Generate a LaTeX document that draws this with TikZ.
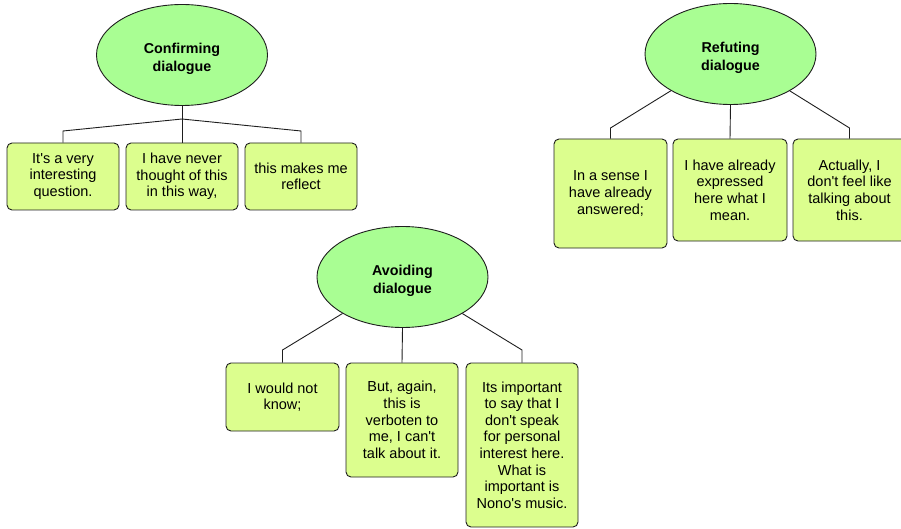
\documentclass[tikz,border=0pt]{standalone}
\usepackage{fontspec}
\setmainfont{Liberation Sans}[Ligatures=TeXOff]
\usetikzlibrary{shapes.geometric}
\definecolor{topicgreen}{HTML}{A9FE93}
\definecolor{notegreen}{HTML}{DCFE8E}
\definecolor{inkgray}{HTML}{1E1E1E}
% two-line bold caption, drawn a little below the ellipse centre
\newcommand\topictext[1]{\raisebox{-3.5pt}[\height][\depth]{\begin{tabular}{@{}c@{}}#1\end{tabular}}}
\tikzset{
  topic/.style={ellipse, draw=inkgray, line width=0.9pt, fill=topicgreen,
    minimum width=171pt, minimum height=101pt, inner sep=0pt,
    font=\fontsize{14.3}{18}\selectfont\bfseries},
  note/.style={rectangle, rounded corners=5pt, draw=inkgray, line width=0.9pt,
    fill=notegreen, minimum width=112pt, inner sep=0pt,
    font=\fontsize{14.5}{16.6}\selectfont, align=center},
  link/.style={draw=inkgray, line width=0.9pt}
}
\begin{document}
\begin{tikzpicture}[x=1pt, y=-1pt]
\useasboundingbox (0,0) rectangle (901,529);
\clip (0,0) rectangle (901,529);

% Confirming dialogue
\node[topic] (C) at (182,55) {\topictext{Confirming\\dialogue}};
\node[note, minimum height=67pt] (C1) at (63,176.5) {It's a very\\interesting\\question.};
\node[note, minimum height=67pt] (C2) at (182,176.5) {I have never\\thought of this\\in this way,};
\node[note, minimum height=67pt] (C3) at (301,176.5) {this makes me\\reflect};
\coordinate (cj) at (182,119);
\coordinate (cl) at (63,131);
\coordinate (cr) at (301,131);
\draw[link] (C.south) -- (C2.north);
\draw[link] (cj) -- (cl) -- (C1.north);
\draw[link] (cj) -- (cr) -- (C3.north);

% Refuting dialogue
\node[topic] (R) at (730.5,54) {\topictext{Refuting\\dialogue}};
\node[note, minimum width=113pt, minimum height=109pt] (R1) at (610.5,193.5) {In a sense I\\have already\\answered;};
\node[note, minimum width=114pt, minimum height=102pt] (R2) at (730,190) {I have already\\expressed\\here what I\\mean.};
\node[note, minimum width=113pt, minimum height=102pt] (R3) at (849.5,190) {Actually, I\\don't feel like\\talking about\\this.};
\coordinate (rl) at (610.5,128);
\coordinate (rr) at (849.5,128);
\draw[link] (R) -- (rl) -- (R1.north);
\draw[link] (R.south) -- (R2.north);
\draw[link] (R) -- (rr) -- (R3.north);

% Avoiding dialogue
\node[topic] (A) at (402.5,277) {\topictext{Avoiding\\dialogue}};
\node[note, minimum width=113pt, minimum height=68pt] (A1) at (282.5,397) {I would not\\know;};
\node[note, minimum height=114pt] (A2) at (402,420) {But, again,\\this is\\verboten to\\me, I can't\\talk about it.};
\node[note, minimum height=164pt] (A3) at (522,445) {Its important\\to say that I\\don't speak\\for personal\\interest here.\\What is\\important is\\Nono's music.};
\coordinate (al) at (282.5,350);
\coordinate (ar) at (522,350);
\draw[link] (A) -- (al) -- (A1.north);
\draw[link] (A.south) -- (A2.north);
\draw[link] (A) -- (ar) -- (A3.north);
\end{tikzpicture}
\end{document}
